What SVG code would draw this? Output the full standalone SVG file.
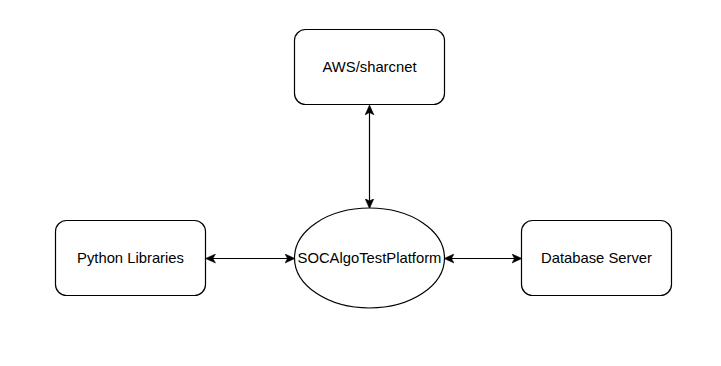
<svg xmlns="http://www.w3.org/2000/svg" width="721" height="366" viewBox="0 0 721 366">
  <style>
    .box { fill: #ffffff; stroke: #000000; stroke-width: 1.2; }
    .lbl { font-family: "Liberation Sans", Arial, Helvetica, sans-serif; font-size: 14.8px; fill: #000000; text-anchor: middle; dominant-baseline: central; }
    .edge { fill: none; stroke: #000000; stroke-width: 1.2; }
  </style>
  <defs>
    <marker id="arrow" viewBox="0 0 10 10" refX="9" refY="5" markerWidth="10" markerHeight="10" markerUnits="userSpaceOnUse" orient="auto-start-reverse">
      <path d="M0,0.5 L10,5 L0,9.5 L2.5,5 Z" fill="#000000" stroke="#000000" stroke-width="0.5"/>
    </marker>
  </defs>
  <rect width="721" height="366" fill="#ffffff"/>

  <g id="connectors">
    <line class="edge" x1="369.5" y1="106" x2="369.5" y2="207.5" marker-start="url(#arrow)" marker-end="url(#arrow)"/>
    <line class="edge" x1="206.5" y1="258.5" x2="294" y2="258.5" marker-start="url(#arrow)" marker-end="url(#arrow)"/>
    <line class="edge" x1="445" y1="258.5" x2="521" y2="258.5" marker-start="url(#arrow)" marker-end="url(#arrow)"/>
  </g>

  <g id="aws">
    <rect class="box" x="294.5" y="29.5" width="150" height="75" rx="11" ry="11"/>
    <text class="lbl" x="369.5" y="67">AWS/sharcnet</text>
  </g>

  <g id="python-libraries">
    <rect class="box" x="55.5" y="220.5" width="150" height="75" rx="11" ry="11"/>
    <text class="lbl" x="130.5" y="258">Python Libraries</text>
  </g>

  <g id="platform">
    <ellipse class="box" cx="369.5" cy="258" rx="75" ry="50"/>
    <text class="lbl" x="369.5" y="258">SOCAlgoTestPlatform</text>
  </g>

  <g id="database-server">
    <rect class="box" x="521.5" y="220.5" width="150" height="75" rx="11" ry="11"/>
    <text class="lbl" x="596.5" y="258">Database Server</text>
  </g>
</svg>
